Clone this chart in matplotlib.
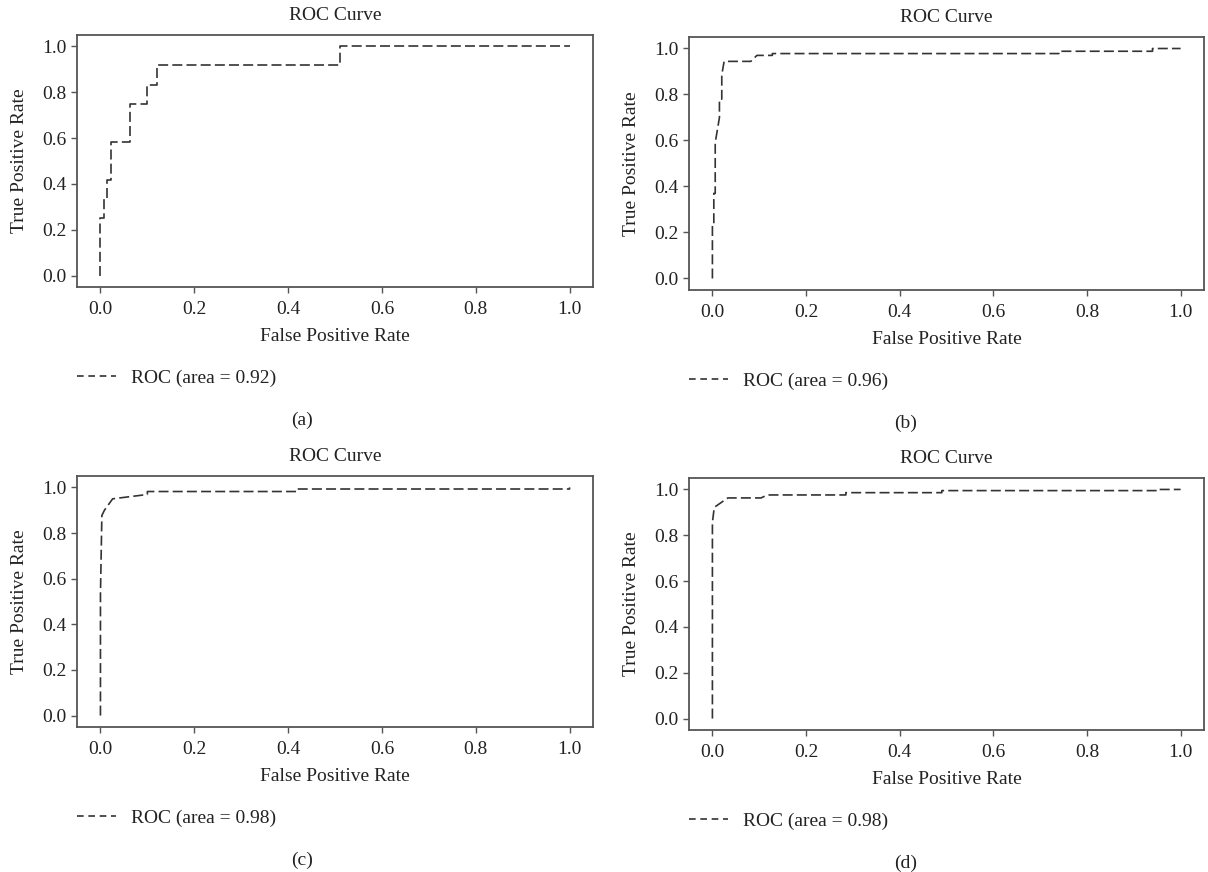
import matplotlib
matplotlib.use("Agg")
import matplotlib.pyplot as plt
from matplotlib.lines import Line2D

plt.rcParams['font.family'] = ['Liberation Serif', 'DejaVu Serif']

# Panel (a)
fpr_a = [0.0, 0.0, 0.0085, 0.0085, 0.014, 0.014, 0.023, 0.023, 0.063, 0.063, 0.10, 0.10, 0.121, 0.121, 0.51, 0.51, 1.0]
tpr_a = [0.0, 0.25, 0.25, 0.333, 0.333, 0.417, 0.417, 0.583, 0.583, 0.75, 0.75, 0.833, 0.833, 0.917, 0.917, 1.0, 1.0]
auc_a = 0.92

# Panel (b)
fpr_b = [0.0, 0.0, 0.003, 0.003, 0.006, 0.006, 0.015, 0.015, 0.02, 0.02, 0.025, 0.034, 0.082, 0.095, 0.128, 0.128, 0.74, 0.74, 0.94, 0.94, 1.0]
tpr_b = [0.0, 0.24, 0.24, 0.37, 0.37, 0.59, 0.70, 0.78, 0.78, 0.885, 0.944, 0.944, 0.944, 0.97, 0.97, 0.978, 0.978, 0.988, 0.988, 1.0, 1.0]
auc_b = 0.96

# Panel (c)
fpr_c = [0.0, 0.0, 0.003, 0.0085, 0.026, 0.10, 0.10, 0.42, 0.42, 1.0, 1.0]
tpr_c = [0.0, 0.53, 0.877, 0.90, 0.95, 0.969, 0.982, 0.982, 0.993, 0.993, 1.0]
auc_c = 0.98

# Panel (d)
fpr_d = [0.0, 0.0, 0.004, 0.033, 0.104, 0.117, 0.285, 0.285, 0.49, 0.49, 0.95, 0.95, 1.0]
tpr_d = [0.0, 0.856, 0.922, 0.963, 0.963, 0.976, 0.976, 0.986, 0.986, 0.995, 0.995, 1.0, 1.0]
auc_d = 0.98

panels = [
    (fpr_a, tpr_a, auc_a, '(a)'),
    (fpr_b, tpr_b, auc_b, '(b)'),
    (fpr_c, tpr_c, auc_c, '(c)'),
    (fpr_d, tpr_d, auc_d, '(d)'),
]

W, H = 1208, 872
fig = plt.figure(figsize=(W / 100, H / 100), dpi=100)

# axes boxes in pixels: left, top, right, bottom
boxes = [
    (77, 35, 593, 287),
    (689, 37, 1204, 290),
    (77, 476, 593, 727),
    (689, 478, 1204, 730),
]
caption_x = [0.25, 0.75, 0.25, 0.75]

FS = 14
col = '#333333'
txt = '#222222'
spine_col = '#555555'

for (fpr, tpr, auc, cap), (l, t, r, b), cx in zip(panels, boxes, caption_x):
    ax = fig.add_axes([l / W, 1 - b / H, (r - l) / W, (b - t) / H])
    ax.plot(fpr, tpr, color=col, lw=1.2, linestyle=(0, (6, 2.5)))
    ticks = [0.0, 0.2, 0.4, 0.6, 0.8, 1.0]
    ax.set_xticks(ticks)
    ax.set_yticks(ticks)
    ax.set_xticklabels(['%.1f' % v for v in ticks])
    ax.set_yticklabels(['%.1f' % v for v in ticks])
    ax.tick_params(labelsize=FS, colors=txt, length=4, width=1, color=spine_col)
    ax.tick_params(axis='x', pad=6)
    for s in ax.spines.values():
        s.set_color(spine_col)
        s.set_linewidth(1.3)
    ax.set_xlabel('False Positive Rate', fontsize=FS, color=txt, labelpad=7)
    ax.set_ylabel('True Positive Rate', fontsize=FS, color=txt, labelpad=10)
    ax.set_title('ROC Curve', fontsize=FS, color=txt, pad=11)
    handle = Line2D([], [], color=col, lw=1.2, linestyle=(0, (4, 2.8)))
    leg_y = -(91) / (b - t)
    ax.legend(handles=[handle], labels=['ROC (area = %.2f)' % auc],
              loc='center left', bbox_to_anchor=(0.0, leg_y), frameon=False,
              fontsize=FS, borderaxespad=0, borderpad=0, handlelength=2.0,
              handletextpad=0.8, labelcolor=txt)
    fig.text(cx, 1 - (b + 133) / H, cap, ha='center', va='center',
             fontsize=FS, color=txt)

fig.savefig('out.png', dpi=100)
